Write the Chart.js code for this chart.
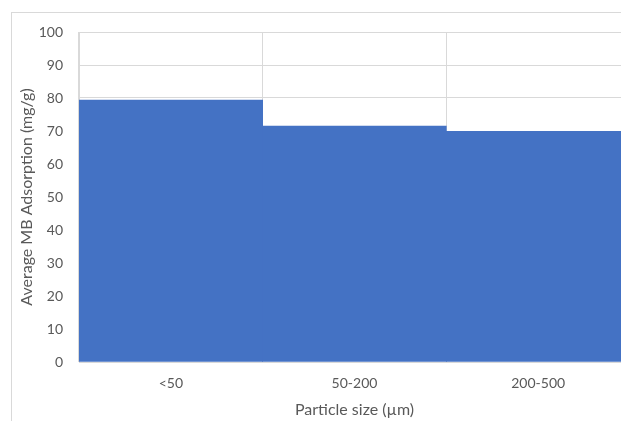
<!DOCTYPE html>
<html>
<head>
<meta charset="utf-8">
<script src="https://cdn.jsdelivr.net/npm/chart.js@4"></script>
<style>
  html, body { margin: 0; padding: 0; background: #fff; overflow: hidden; }
  #frame { position: absolute; left: 11px; top: 12px; width: 700px; height: 500px; border: 1px solid #d9d9d9; }
  #wrap { position: absolute; left: 0; top: 0; width: 630px; height: 421px; }
</style>
</head>
<body>
<div id="frame"></div>
<div id="wrap"><canvas id="myChart"></canvas></div>
<script>
const myChartObject = document.getElementById('myChart');

const categories = ['<50', '50-200', '200-500'];
const adsorption = [79.4, 71.5, 69.9];
const yTitle = 'Average MB Adsorption (mg/g)';
const xTitle = 'Particle size (µm)';

const textColor = '#595959';
const font = { family: 'Lato, "Open Sans", sans-serif', size: 14 };
const titleFont = { family: 'Lato, "Open Sans", sans-serif', size: 16 };

const cfg = {
  type: 'bar',
  data: {
    labels: categories,
    datasets: [{
      label: 'adsorption',
      data: adsorption,
      backgroundColor: '#4472c4',
      borderWidth: 0,
      barPercentage: 1,
      categoryPercentage: 1
    }]
  },
  options: {
    responsive: true,
    maintainAspectRatio: false,
    animation: false,
    layout: { padding: { left: 12, top: 32, right: 0, bottom: 0 } },
    plugins: { legend: { display: false }, tooltip: { enabled: false } },
    scales: {
      x: {
        grid: { color: '#d9d9d9', drawTicks: false, offset: true },
        border: { color: '#d9d9d9' },
        ticks: { color: textColor, font: font, padding: 13 },
        title: { display: true, text: xTitle, color: textColor, font: titleFont, padding: { top: 4, bottom: 1.5 } },
        afterFit: function (s) { s.height = 59; }
      },
      y: {
        min: 0,
        max: 100,
        ticks: { stepSize: 10, color: textColor, font: font, padding: 16 },
        grid: { color: '#d9d9d9', drawTicks: false },
        border: { color: '#d9d9d9' },
        title: { display: true, text: yTitle, color: textColor, font: titleFont, padding: { top: 5, bottom: 0 } },
        afterFit: function (s) { s.width = 67; }
      }
    }
  }
};

let chart = new Chart(myChartObject, cfg);
</script>
</body>
</html>
